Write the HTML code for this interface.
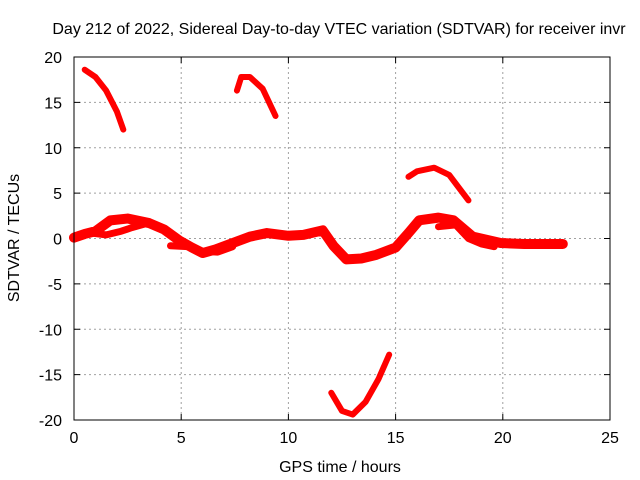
<!DOCTYPE html>
<html><head><meta charset="utf-8"><style>
body{margin:0;background:#fff}
svg{display:block;font-family:"Liberation Sans",sans-serif;font-size:16px}
</style></head><body>
<svg id="c" width="640" height="480">
<text x="339" y="34" text-anchor="middle">Day 212 of 2022, Sidereal Day-to-day VTEC variation (SDTVAR) for receiver invr</text>
<text x="340" y="472" text-anchor="middle">GPS time / hours</text>
<text transform="translate(19,238) rotate(-90)" text-anchor="middle">SDTVAR / TECUs</text>
<g id="grid"></g><g id="ticks"></g><g id="series"></g>
<rect x="74" y="57" width="536" height="363" fill="none" stroke="#000"/>
</svg>
<script>
const xTicks=[0,5,10,15,20,25];
const yTicks=[20,15,10,5,0,-5,-10,-15,-20];
const mainUpper=[[0,0.1],[0.5,0.5],[1,0.8],[1.7,2],[2.5,2.2],[3.5,1.7],[4.2,1],[4.9,-0.2],[5.5,-1],[6,-1.6],[6.6,-1.2],[7.4,-0.5],[8.2,0.2],[9,0.6],[10,0.3],[10.7,0.4],[11.6,0.9],[12.1,-0.8],[12.7,-2.3],[13.4,-2.2],[14.1,-1.8],[15,-1],[15.6,0.6],[16.1,2],[17,2.3],[17.7,2],[18.6,0.2],[19.9,-0.5],[21,-0.6],[22,-0.6],[22.8,-0.6]];
const mainLower=[[0.8,0.6],[1.5,0.4],[2.2,0.8],[2.7,1.2],[3.3,1.6]];
const secondLower=[[4.5,-0.8],[5.3,-0.9],[6,-1.4],[6.7,-1.5],[7.4,-0.9]];
const secondLate=[[17,1.3],[17.8,1.5],[18.4,0],[19,-0.6],[19.6,-0.9]];
const arc1=[[0.5,18.6],[1,17.8],[1.5,16.3],[2,14],[2.3,12]];
const arc2=[[7.6,16.3],[7.8,17.8],[8.2,17.8],[8.8,16.5],[9.4,13.5]];
const arc3=[[15.6,6.8],[16,7.4],[16.8,7.8],[17.5,7],[18.4,4.2]];
const arc4=[[12,-17],[12.5,-19],[13,-19.4],[13.6,-18],[14.2,-15.5],[14.7,-12.8]];
const NS="http://www.w3.org/2000/svg";
const X=h=>74+h*536/25, Y=v=>238.5-v*363/40;
const g=document.getElementById('grid'),t=document.getElementById('ticks'),s=document.getElementById('series');
function mk(tag,at,p){const e=document.createElementNS(NS,tag);for(const k in at)e.setAttribute(k,at[k]);p.appendChild(e);return e;}
xTicks.forEach(v=>{const x=X(v);
 if(v>0&&v<25){const l=mk('line',{x1:x,y1:57,x2:x,y2:420,stroke:'#a0a0a0','stroke-dasharray':'2,3'},g);
 
 }
 mk('line',{x1:x,y1:420,x2:x,y2:414,stroke:'#000'},t);mk('line',{x1:x,y1:57,x2:x,y2:63,stroke:'#000'},t);
 const tx=mk('text',{x:x,y:443,'text-anchor':'middle'},t);tx.textContent=v;
 
 });
yTicks.forEach(v=>{const y=Y(v);
 if(v>-20&&v<20){const l=mk('line',{x1:74,y1:y,x2:610,y2:y,stroke:'#a0a0a0','stroke-dasharray':'2,3'},g);
 
 }
 mk('line',{x1:74,y1:y,x2:80,y2:y,stroke:'#000'},t);mk('line',{x1:604,y1:y,x2:610,y2:y,stroke:'#000'},t);
 const tx=mk('text',{x:62,y:y+6,'text-anchor':'end'},t);tx.textContent=v;
 
 });
function line(d,w,name){const p=mk('polyline',{points:d.map(q=>X(q[0])+','+Y(q[1])).join(' '),fill:'none',stroke:'#f00','stroke-width':w,'stroke-linejoin':'round','stroke-linecap':'round'},s);
 
 }
line(mainUpper,10,'sdtvar-main-band');
line(mainLower,7,'sdtvar-early-strand');
line(secondLower,7,'sdtvar-mid-strand');
line(secondLate,7,'sdtvar-late-strand');
line(arc1,6,'sdtvar-arc-1');
line(arc2,6,'sdtvar-arc-2');
line(arc3,6,'sdtvar-arc-3');
line(arc4,6,'sdtvar-arc-4');
</script>
</body></html>
